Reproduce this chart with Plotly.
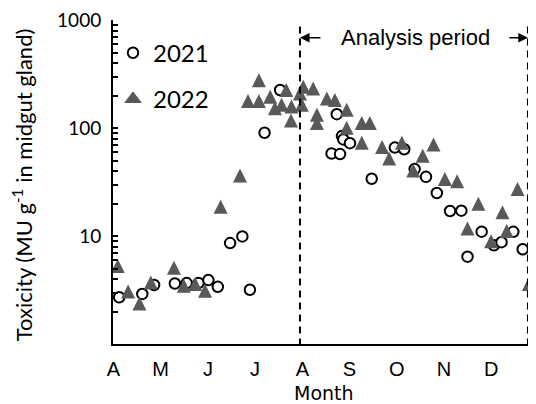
import plotly.graph_objects as go

# x: months since 1 April (0 = A, 1 = M, ... 8 = D); y: toxicity (MU/g)
x_2021 = [0.12, 0.61, 0.86, 1.30, 1.55, 1.80, 2.01, 2.21, 2.47, 2.73, 2.89,
          3.20, 3.53, 4.73, 4.84, 4.87, 5.01, 4.62, 4.80, 5.47, 5.96, 6.16,
          6.38, 6.62, 6.85, 7.13, 7.37, 7.80, 7.50, 8.06, 8.22, 8.47, 8.67]
y_2021 = [2.71, 2.91, 3.52, 3.64, 3.67, 3.67, 3.91, 3.39, 8.62, 9.93, 3.18,
          90.7, 226, 135, 84.6, 78.7, 72.7, 58.3, 57.6, 34.0, 66.1, 63.8,
          41.8, 35.4, 25.1, 17.1, 17.2, 11.0, 6.45, 8.22, 8.79, 10.96, 7.55]

x_2022 = [0.09, 0.31, 0.55, 0.79, 1.28, 1.49, 1.73, 1.94, 2.27, 2.68, 2.85,
          3.08, 3.08, 3.32, 3.42, 3.56, 3.66, 3.77, 3.76, 3.95, 3.99, 4.02,
          4.23, 4.31, 4.31, 4.52, 4.69, 4.94, 4.94, 5.26, 5.43, 5.26, 5.69,
          5.84, 6.11, 6.35, 6.55, 6.78, 7.02, 7.28, 7.73, 7.50, 8.00, 8.24,
          8.33, 8.56, 8.80]
y_2022 = [5.28, 3.07, 2.37, 3.71, 5.09, 3.46, 3.59, 3.12, 18.7, 36.4, 179,
          279, 179, 196, 153, 165, 226, 159, 118, 210, 165, 242,
          234, 133, 112, 189, 183, 148, 101, 112, 112, 73.4, 66.8,
          52.4, 73.4, 40.5, 55.5, 70.8, 33.9, 32.3, 20.0, 11.75, 8.94, 16.6,
          11.15, 27.3, 3.59]

month_ticks = [0, 1, 2, 3, 4, 5, 6, 7, 8]
month_labels = ["A", "M", "J", "J", "A", "S", "O", "N", "D"]
y_major = [10, 100, 1000]
y_major_text = ["10", "100", "1000"]
y_minor = [m * 10 ** e for e in range(0, 3) for m in range(2, 10)]
analysis_start = 3.95
analysis_end = 8.78
analysis_label_x = 6.39
legend_names = ["2021", "2022"]

TRI = "#595959"

fig = go.Figure()
fig.add_trace(go.Scatter(
    x=x_2021, y=y_2021, mode="markers", name=legend_names[0],
    legendgroup="a",
    marker=dict(symbol="circle", size=10.5, color="white",
                line=dict(color="black", width=2)),
))
fig.add_trace(go.Scatter(
    x=x_2022, y=y_2022, mode="markers", name=legend_names[1],
    legendgroup="b", showlegend=False, cliponaxis=False,
    marker=dict(symbol="arrow-down", angle=180, standoff=7, size=14,
                color=TRI, line=dict(width=0)),
))
# legend entry for 2022
fig.add_trace(go.Scatter(
    x=[None], y=[None], mode="markers", name=legend_names[1],
    legendgroup="b",
    marker=dict(symbol="triangle-up", size=14, color=TRI,
                line=dict(color=TRI, width=1)),
))

for xv in [analysis_start, analysis_end]:
    fig.add_shape(type="line", xref="x", yref="paper", x0=xv, x1=xv,
                  y0=-0.005, y1=0.995, layer="above",
                  line=dict(color="black", width=2, dash="7px,5px"))

ann_y = 0.945
fig.add_annotation(xref="x", yref="paper", x=analysis_label_x,
                   y=ann_y, xanchor="center", yanchor="middle",
                   text="Analysis period", showarrow=False,
                   font=dict(family="Liberation Sans, Arial", size=22, color="black"))
fig.add_annotation(xref="x", yref="paper", x=analysis_start, y=ann_y,
                   ax=22, ay=0, axref="pixel", ayref="pixel",
                   text="", showarrow=True, arrowhead=2, arrowsize=1.2,
                   arrowwidth=1.6, arrowcolor="black")
fig.add_annotation(xref="x", yref="paper", x=analysis_end, y=ann_y,
                   ax=-20, ay=0, axref="pixel", ayref="pixel",
                   text="", showarrow=True, arrowhead=2, arrowsize=1.2,
                   arrowwidth=1.6, arrowcolor="black")

fig.add_annotation(xref="paper", yref="paper", x=-0.215, y=0.49,
                   xanchor="center", yanchor="middle",
                   text="Toxicity (MU g<sup>-1</sup> in midgut gland)",
                   textangle=-90, showarrow=False,
                   font=dict(family="Lato", size=22, color="black"))
fig.add_annotation(xref="paper", yref="paper", x=0.499, y=-0.15,
                   xanchor="center", yanchor="middle",
                   text="Month", showarrow=False,
                   font=dict(family="DejaVu Sans", size=19, color="black"))

fig.update_layout(
    width=528, height=396,
    margin=dict(l=105, r=0, t=8, b=60),
    paper_bgcolor="white", plot_bgcolor="white",
    showlegend=True,
    legend=dict(x=0.0, y=0.967, xanchor="left", yanchor="top",
                traceorder="grouped", tracegroupgap=12,
                font=dict(family="Lato", size=24, color="black"),
                bgcolor="rgba(0,0,0,0)", itemwidth=30),
    xaxis=dict(range=[-0.0106, 8.951], tickmode="array", tickvals=month_ticks,
               ticktext=month_labels, showline=True, linecolor="black",
               linewidth=2, ticks="", showgrid=False, zeroline=False,
               ticklabelstandoff=6,
               tickfont=dict(family="Liberation Sans, Arial", size=20, color="black")),
    yaxis=dict(type="log", range=[0, 3.003], tickmode="array", tickvals=y_major,
               ticktext=y_major_text, showline=True, linecolor="black",
               linewidth=2, ticks="inside", ticklen=5, tickwidth=1.5,
               tickcolor="black", showgrid=False, zeroline=False,
               ticklabelstandoff=6, ticklabeloverflow="allow",
               tickfont=dict(family="Lato", size=19, color="black"),
               minor=dict(tickmode="array", tickvals=y_minor, ticks="inside",
                          ticklen=5, tickwidth=1.5, tickcolor="black",
                          showgrid=False)),
)

fig.write_html("out.html")
